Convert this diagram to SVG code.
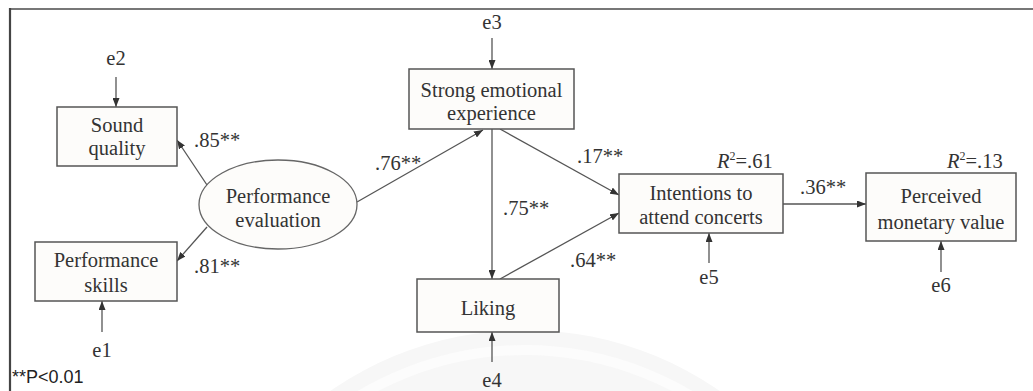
<svg xmlns="http://www.w3.org/2000/svg" width="1033" height="391" viewBox="0 0 1033 391">
  <style>
    .box { fill: #fdfcfa; stroke: #555; stroke-width: 1.5; }
    .oval { fill: #fdfcfa; stroke: #666; stroke-width: 1.3; }
    .lbl { font-family: "Liberation Serif", "Times New Roman", serif; font-size: 20.5px; fill: #333; }
    .mid { text-anchor: middle; }
    .edge { stroke: #555; stroke-width: 1.3; fill: none; marker-end: url(#tip); }
    .note { font-family: "Liberation Sans", Arial, sans-serif; font-size: 18px; fill: #222; }
  </style>
  <defs>
    <marker id="tip" markerUnits="userSpaceOnUse" markerWidth="9" markerHeight="7" refX="9" refY="3.5" orient="auto">
      <path d="M0,0 L9,3.5 L0,7 z" fill="#333"/>
    </marker>
  </defs>

  <rect width="1033" height="391" fill="#ffffff"/>

  <!-- faint background seal -->
  <g id="seal">
    <circle cx="525" cy="672" r="342" fill="#f7f7f7"/>
    <circle cx="525" cy="672" r="322" fill="none" stroke="#fcfcfc" stroke-width="10"/>
  </g>

  <!-- frame -->
  <g id="frame" fill="none">
    <line x1="9" y1="9" x2="1033" y2="9" stroke="#777" stroke-width="2"/>
    <line x1="10" y1="8" x2="10" y2="391" stroke="#444" stroke-width="2.2"/>
  </g>

  <!-- connectors -->
  <g id="connectors">
    <line class="edge" x1="116" y1="77" x2="116" y2="107"/>
    <line class="edge" x1="102" y1="332" x2="102" y2="301"/>
    <line class="edge" x1="207" y1="185" x2="177" y2="140"/>
    <line class="edge" x1="207" y1="227" x2="177" y2="261"/>
    <line class="edge" x1="357" y1="202" x2="483" y2="130"/>
    <line class="edge" x1="492" y1="38" x2="492" y2="69"/>
    <line class="edge" x1="500" y1="129" x2="619" y2="195"/>
    <line class="edge" x1="492" y1="129" x2="492" y2="279"/>
    <line class="edge" x1="500" y1="279" x2="619" y2="213"/>
    <line class="edge" x1="492" y1="362" x2="492" y2="332"/>
    <line class="edge" x1="709" y1="263" x2="709" y2="233"/>
    <line class="edge" x1="783" y1="204" x2="866" y2="204"/>
    <line class="edge" x1="941" y1="272" x2="941" y2="241"/>
  </g>

  <!-- path coefficients -->
  <g id="coefficients" class="lbl">
    <text x="194" y="147">.85**</text>
    <text x="194" y="273">.81**</text>
    <text x="375" y="170">.76**</text>
    <text x="577" y="163">.17**</text>
    <text x="503" y="215">.75**</text>
    <text x="570" y="267">.64**</text>
    <text x="800" y="194">.36**</text>
  </g>

  <!-- error terms -->
  <g id="errors" class="lbl mid">
    <text x="116" y="65">e2</text>
    <text x="102" y="357">e1</text>
    <text x="492" y="29">e3</text>
    <text x="492" y="387">e4</text>
    <text x="709" y="284">e5</text>
    <text x="941" y="292">e6</text>
  </g>

  <g id="sound-quality">
    <rect class="box" x="57" y="107" width="120" height="59"/>
    <text class="lbl mid" x="117" y="132">Sound</text>
    <text class="lbl mid" x="117" y="155">quality</text>
  </g>

  <g id="performance-skills">
    <rect class="box" x="35" y="242" width="142" height="59"/>
    <text class="lbl mid" x="106" y="267">Performance</text>
    <text class="lbl mid" x="106" y="292">skills</text>
  </g>

  <g id="performance-evaluation">
    <ellipse class="oval" cx="278" cy="204.5" rx="79" ry="44.5"/>
    <text class="lbl mid" x="278" y="203">Performance</text>
    <text class="lbl mid" x="278" y="227">evaluation</text>
  </g>

  <g id="strong-emotional-experience">
    <rect class="box" x="409" y="69" width="165" height="60"/>
    <text class="lbl mid" x="491.5" y="97">Strong emotional</text>
    <text class="lbl mid" x="491.5" y="120">experience</text>
  </g>

  <g id="liking">
    <rect class="box" x="417" y="279" width="142" height="53"/>
    <text class="lbl mid" x="488" y="315">Liking</text>
  </g>

  <g id="intentions">
    <rect class="box" x="619" y="174" width="164" height="59"/>
    <text class="lbl mid" x="701" y="200">Intentions to</text>
    <text class="lbl mid" x="701" y="224">attend concerts</text>
    <text class="lbl" x="717" y="168"><tspan font-style="italic">R</tspan><tspan font-size="12" dy="-8">2</tspan><tspan dy="8">=.61</tspan></text>
  </g>

  <g id="perceived-monetary-value">
    <rect class="box" x="866" y="173" width="150" height="68"/>
    <text class="lbl mid" x="941" y="203">Perceived</text>
    <text class="lbl mid" x="941" y="229">monetary value</text>
    <text class="lbl" x="947" y="168"><tspan font-style="italic">R</tspan><tspan font-size="12" dy="-8">2</tspan><tspan dy="8">=.13</tspan></text>
  </g>

  <text id="significance-note" class="note" x="12" y="383">**P&lt;0.01</text>
</svg>
